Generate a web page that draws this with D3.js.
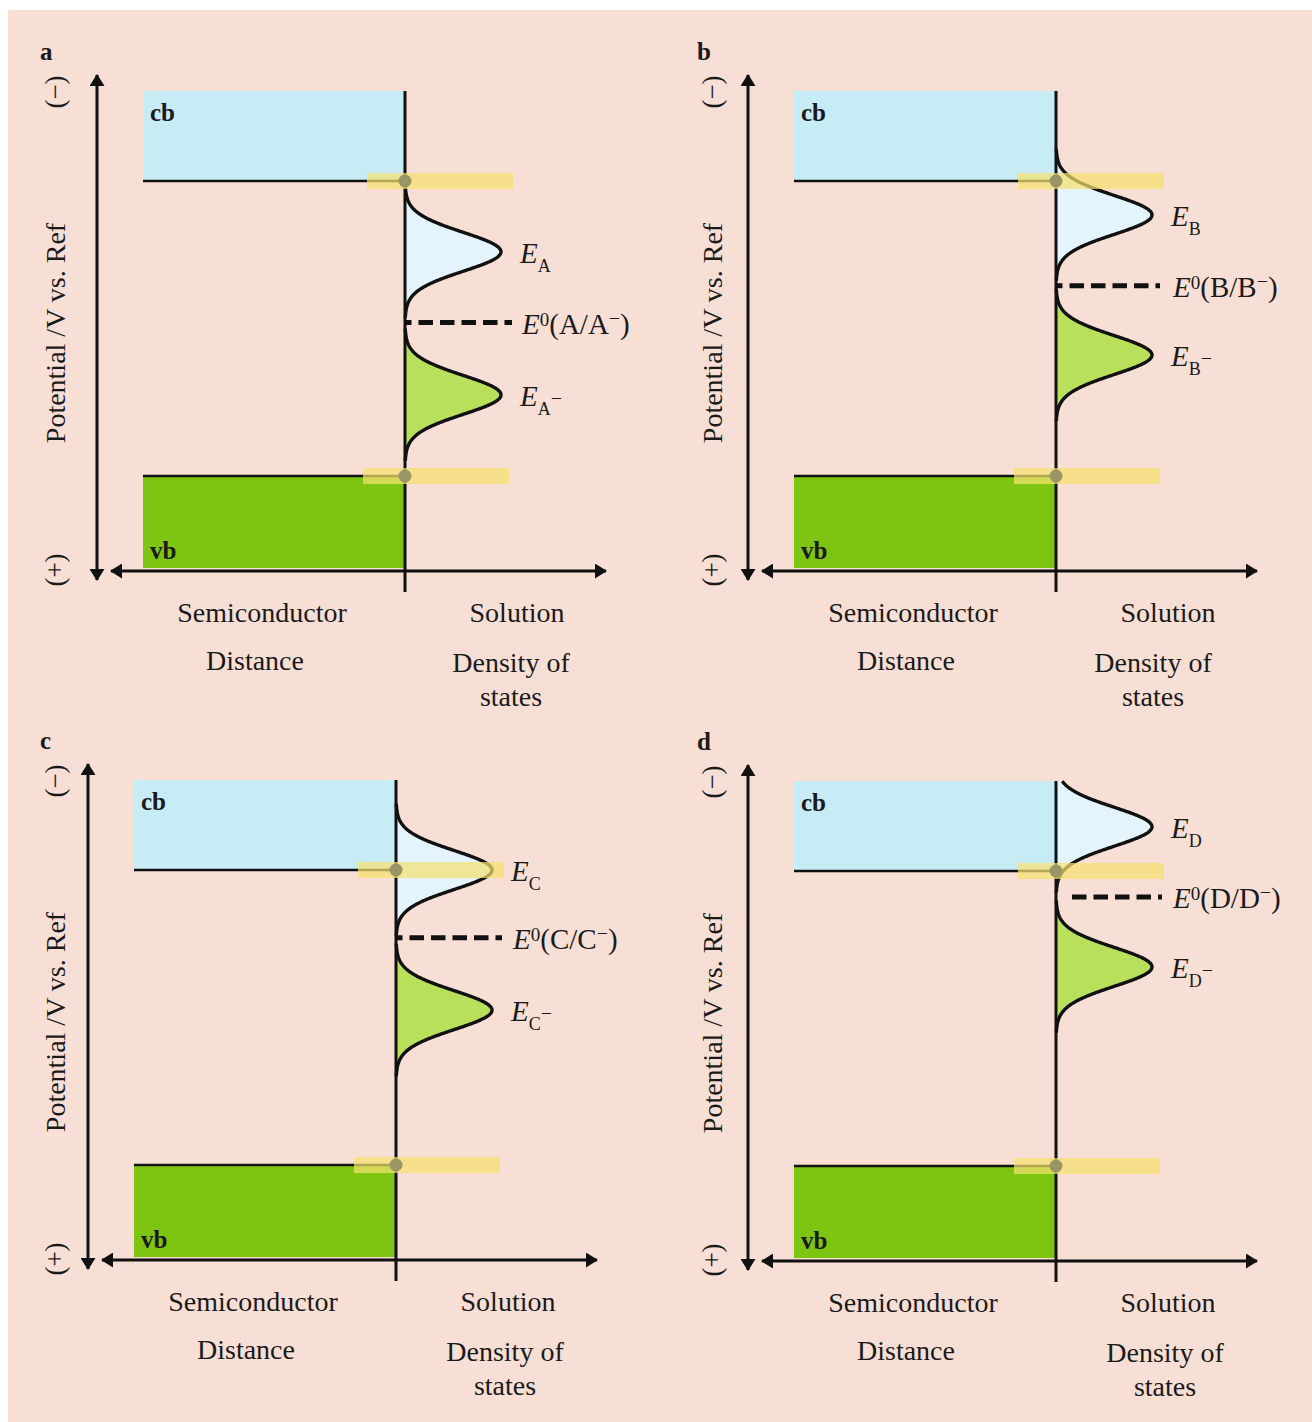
<!DOCTYPE html>
<html>
<head>
<meta charset="utf-8">
<script src="https://cdn.jsdelivr.net/npm/d3@7"></script>
<style>
  body { margin: 0; background: #fff; }
  svg { display: block; }
  text { font-family: "Liberation Serif", "Times New Roman", serif; fill: #1a1a1a; }
</style>
</head>
<body>
<svg id="chart" width="1312" height="1422"></svg>
<script>
// panel data (potential in relative units: cb edge = 0, vb edge = 100)
const panelIds = ["a", "b", "c", "d"];
const species = ["A", "B", "C", "D"];
const bandEdges = [0, 100];             // conduction band edge, valence band edge
const oxPeak = [24, 11.5, 0, -15];      // E_X  (oxidised state DOS maximum)
const e0Level = [48, 35.5, 23, 8.8];    // E0(X/X-)
const redPeak = [72.5, 59, 47.5, 32.5]; // E_X- (reduced state DOS maximum)
const dosMax = [1, 1, 1, 1];
const dosSigma = 6.6;                   // spread of the DOS bell
const bottomLabels = ["Semiconductor", "Solution", "Distance", "Density of", "states"];

// layout of each panel (panel a is the base, others are shifted)
var layout = [
    { ox: 0,   oy: 0,   lx: 55,  dosDx: 106, e0x: [0, 107] },
    { ox: 651, oy: 0,   lx: 712, dosDx: 97,  e0x: [0, 104] },
    { ox: -9,  oy: 689, lx: 55,  dosDx: 109, e0x: [0, 106] },
    { ox: 651, oy: 690, lx: 712, dosDx: 109, e0x: [15, 106] }
];

var svg = d3.select("#chart");

// background
svg.append("rect").attr("x", 0).attr("y", 0).attr("width", 1312).attr("height", 1422).attr("fill", "#ffffff");
svg.append("rect").attr("x", 8).attr("y", 10).attr("width", 1304).attr("height", 1412).attr("fill", "#f8dfd5");

// arrow markers
var defs = svg.append("defs");
defs.append("marker")
    .attr("id", "head")
    .attr("viewBox", "0 0 12 15")
    .attr("refX", 11).attr("refY", 7.5)
    .attr("markerWidth", 12).attr("markerHeight", 15)
    .attr("markerUnits", "userSpaceOnUse")
    .attr("orient", "auto-start-reverse")
    .append("path").attr("d", "M0,0 L12,7.5 L0,15 Z").attr("fill", "#111");

panelIds.forEach(function(id, i) {
    var L = layout[i];
    var ix = 405 + L.ox;         // interface x
    var cbTop = 91 + L.oy;
    var vbBottom = 568 + L.oy;
    var axisY = 571 + L.oy;

    var y = d3.scaleLinear().domain(bandEdges).range([181 + L.oy, 476 + L.oy]);
    var x = d3.scaleLinear().domain([0, 1]).range([ix, ix + 96]);

    var g = svg.append("g").attr("class", "panel-" + id);

    // bands
    g.append("rect")
        .attr("x", ix - 262).attr("y", cbTop)
        .attr("width", 262).attr("height", y(bandEdges[0]) - cbTop)
        .attr("fill", "#c8ecf6");
    g.append("rect")
        .attr("x", ix - 262).attr("y", y(bandEdges[1]))
        .attr("width", 262).attr("height", vbBottom - y(bandEdges[1]))
        .attr("fill", "#7ec512");

    // density of states bells (cut at the top of the cb box)
    var vTop = y.invert(cbTop);
    function bell(center) {
        var pts = [];
        for (var v = center - 3.4 * dosSigma; v <= center + 3.4 * dosSigma + 0.001; v += 0.2) {
            if (v < vTop) continue;
            var d = (v - center) / dosSigma;
            pts.push({ v: v, dos: dosMax[i] * Math.exp(-d * d / 2) });
        }
        return pts;
    }
    var area = d3.area().x0(ix).x1(d => x(d.dos)).y(d => y(d.v));
    var line = d3.line().x(d => x(d.dos)).y(d => y(d.v));

    [{ c: oxPeak[i], fill: "#e3f4fc" }, { c: redPeak[i], fill: "#b9e05a" }].forEach(function(p) {
        var pts = bell(p.c);
        g.append("path").attr("d", area(pts)).attr("fill", p.fill);
        g.append("path").attr("d", line(pts)).attr("fill", "none")
            .attr("stroke", "#111").attr("stroke-width", 3.4);
    });

    // interface line
    g.append("line")
        .attr("x1", ix).attr("x2", ix)
        .attr("y1", cbTop).attr("y2", axisY + 21)
        .attr("stroke", "#111").attr("stroke-width", 3);

    // band edge lines
    bandEdges.forEach(function(e) {
        g.append("line")
            .attr("x1", ix - 262).attr("x2", ix)
            .attr("y1", y(e)).attr("y2", y(e))
            .attr("stroke", "#111").attr("stroke-width", 2.5);
    });

    // E0 dashed line
    g.append("line")
        .attr("x1", ix + L.e0x[0] + 1).attr("x2", ix + L.e0x[1])
        .attr("y1", y(e0Level[i])).attr("y2", y(e0Level[i]))
        .attr("stroke", "#111").attr("stroke-width", 5)
        .attr("stroke-dasharray", "14.5 7")
        .attr("stroke-dashoffset", i == 3 ? 0 : 9);

    // yellow bands at the band edges + dot
    g.append("rect")
        .attr("x", ix - 38).attr("y", y(bandEdges[0]) - 8)
        .attr("width", 146).attr("height", 16)
        .attr("fill", "#f5e070").attr("opacity", 0.72);
    g.append("rect")
        .attr("x", ix - 42).attr("y", y(bandEdges[1]) - 8)
        .attr("width", 146).attr("height", 16)
        .attr("fill", "#f5e070").attr("opacity", 0.72);
    bandEdges.forEach(function(e) {
        g.append("circle").attr("cx", ix).attr("cy", y(e)).attr("r", 6.5).attr("fill", "#9a9566");
    });

    // axes arrows
    var vx = ix - 308;
    g.append("line")
        .attr("x1", vx).attr("x2", vx)
        .attr("y1", 75 + L.oy).attr("y2", 580 + L.oy)
        .attr("stroke", "#111").attr("stroke-width", 3)
        .attr("marker-start", "url(#head)").attr("marker-end", "url(#head)");
    g.append("line")
        .attr("x1", ix - 294).attr("x2", ix + 201)
        .attr("y1", axisY).attr("y2", axisY)
        .attr("stroke", "#111").attr("stroke-width", 3)
        .attr("marker-start", "url(#head)").attr("marker-end", "url(#head)");

    // panel letter
    g.append("text")
        .attr("x", L.lx - 15).attr("y", 60 + L.oy)
        .style("font-weight", "bold").style("font-size", "25px")
        .text(id);

    // band labels
    g.append("text").attr("x", ix - 255).attr("y", 121 + L.oy)
        .style("font-weight", "bold").style("font-size", "25px").text("cb");
    g.append("text").attr("x", ix - 255).attr("y", 559 + L.oy)
        .style("font-weight", "bold").style("font-size", "25px").text("vb");

    // potential axis label and signs
    g.append("text")
        .attr("transform", `translate(${L.lx},${333 + L.oy}) rotate(-90)`)
        .attr("text-anchor", "middle").attr("dominant-baseline", "central")
        .style("font-size", "28px")
        .text("Potential /V vs. Ref");
    [["(\u2212)", 92], ["(+)", 570]].forEach(function(s) {
        g.append("text")
            .attr("transform", `translate(${L.lx},${s[1] + L.oy}) rotate(-90)`)
            .attr("text-anchor", "middle").attr("dominant-baseline", "central")
            .style("font-size", "27px")
            .text(s[0]);
    });

    // bottom labels
    var bx = [ix - 143, ix + 112, ix - 150, ix + L.dosDx, ix + L.dosDx];
    var by = [622, 622, 670, 672, 706];
    bottomLabels.forEach(function(t, k) {
        g.append("text")
            .attr("x", bx[k]).attr("y", by[k] + L.oy)
            .attr("text-anchor", "middle")
            .style("font-size", "28px")
            .text(t);
    });

    // energy labels
    var s = species[i];
    function peakLabel(val, minus) {
        var t = g.append("text")
            .attr("x", ix + 115).attr("y", y(val) + 11)
            .style("font-size", "29px");
        t.append("tspan").style("font-style", "italic").text("E");
        t.append("tspan").attr("dy", 9).style("font-size", "18px").text(s);
        if (minus) t.append("tspan").attr("dy", -10).style("font-size", "20px").text("\u2212");
    }
    peakLabel(oxPeak[i], false);
    peakLabel(redPeak[i], true);

    var t0 = g.append("text")
        .attr("x", ix + 117).attr("y", y(e0Level[i]) + 11)
        .style("font-size", "29px");
    t0.append("tspan").style("font-style", "italic").text("E");
    t0.append("tspan").attr("dy", -8).style("font-size", "19px").text("0");
    t0.append("tspan").attr("dy", 8).text("(" + s + "/" + s);
    t0.append("tspan").attr("dy", -9).style("font-size", "20px").text("\u2212");
    t0.append("tspan").attr("dy", 9).text(")");
});
</script>
</body>
</html>
